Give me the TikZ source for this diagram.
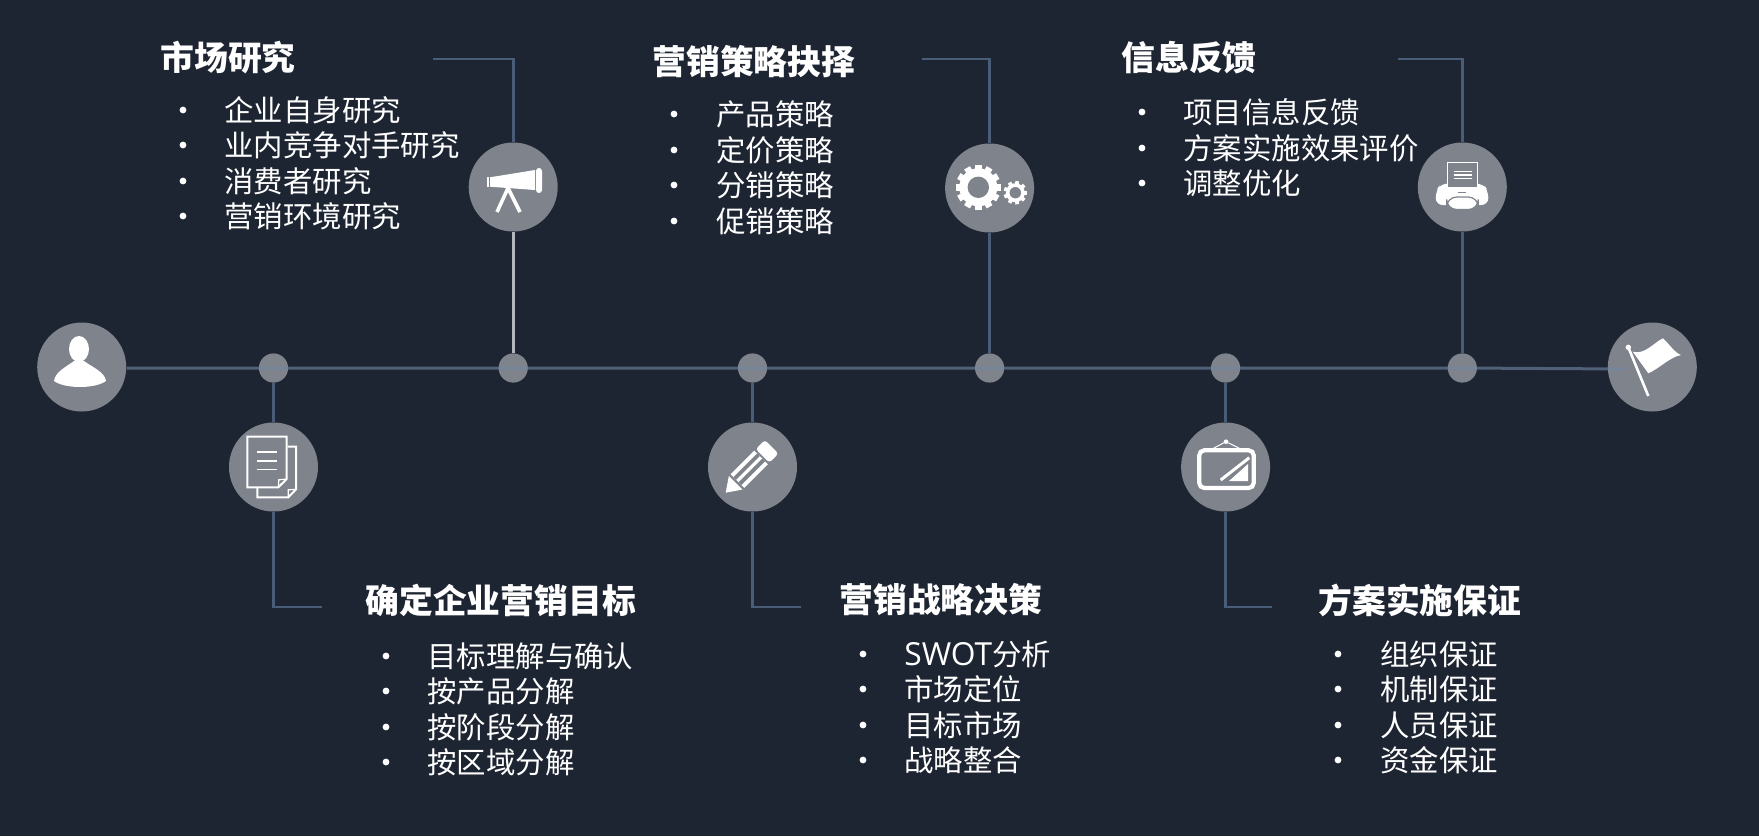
\documentclass[tikz,border=0pt]{standalone}
\usepackage{fontspec}
\setmainfont{Noto Sans CJK SC}
\newfontfamily\latinfont[Scale=1.08]{Open Sans}
\usetikzlibrary{backgrounds}
\definecolor{bgc}{HTML}{1E2532}
\definecolor{disc}{HTML}{7E838C}
\definecolor{wire}{HTML}{4A5D78}
\definecolor{wirelight}{HTML}{B4B8BD}
\definecolor{wiremain}{HTML}{7088A5}
\tikzset{
  x=0.5pt,y=-0.5pt,
  hub/.style={circle,fill=disc,inner sep=0pt,minimum size=44.5pt},
  dotnode/.style={circle,fill=disc,inner sep=0pt,minimum size=14.6pt},
  link/.style={draw=wire,line width=1.4pt},
  mainlink/.style={draw=wiremain,draw opacity=.6,line width=1.5pt},
  head/.style={anchor=west,inner sep=0pt,text=white,font=\fontsize{16.9pt}{20pt}\selectfont\bfseries},
  item/.style={anchor=west,inner sep=0pt,text=white,font=\fontsize{14.7pt}{18pt}\selectfont},
  bul/.style={circle,fill=white,inner sep=0pt,minimum size=3.4pt},
  ic/.style={fill=white,draw=none},
  icl/.style={draw=white,line width=1pt},
}
\newcommand{\rowitem}[5]{% name, bullet x, text x, y, text
  \node[bul] (b#1) at (#2,#4) {};
  \node[item] (t#1) at (#3,#4) {#5};
}
\begin{document}
\begin{tikzpicture}
\useasboundingbox (0,0) rectangle (1759,836);
% nodes
\node[hub] (person) at (81.7,367) {};
\node[hub] (flag) at (1652.3,367) {};
\node[hub] (docs) at (273.5,467) {};
\node[hub] (scope) at (513.2,187) {};
\node[hub] (pencil) at (752.5,467) {};
\node[hub] (gears) at (989.6,188) {};
\node[hub] (frame) at (1225.6,467) {};
\node[hub] (printer) at (1462.3,187) {};
\node[dotnode] (d1) at (273.5,368) {};
\node[dotnode] (d2) at (513.2,368) {};
\node[dotnode] (d3) at (752.5,368) {};
\node[dotnode] (d4) at (989.6,368) {};
\node[dotnode] (d5) at (1225.6,368) {};
\node[dotnode] (d6) at (1462.3,368) {};
\coordinate (linestart) at (person.east |- d1.center);
\coordinate (lineend) at (1625,369);
\coordinate (c1) at (433,59);
\coordinate (c2) at (922,59);
\coordinate (c3) at (1398,59);
\coordinate (c4) at (322,607);
\coordinate (c5) at (801,607);
\coordinate (c6) at (1272,607);
\begin{scope}[on background layer]
  \fill[bgc] (0,0) rectangle (1759,836);
  \draw[link] (d1) -- (docs);
  \draw[link] (d3) -- (pencil);
  \draw[link] (d5) -- (frame);
  \draw[link,draw=wirelight] (scope) -- (d2);
  \draw[link] (gears) -- (d4);
  \draw[link] (printer) -- (d6);
  \draw[link] (c1) -| (scope);
  \draw[link] (c2) -| (gears);
  \draw[link] (c3) -| (printer);
  \draw[link] (docs) |- (c4);
  \draw[link] (pencil) |- (c5);
  \draw[link] (frame) |- (c6);
\end{scope}
\draw[mainlink] (linestart) -- (d1.center) -- (d2.center) -- (d3.center) -- (d4.center) -- (d5.center) -- (d6.center) -- (lineend);
% person
\fill[ic] (79,349) ellipse[x radius=10,y radius=13];
\fill[ic] (54,381) .. controls (55,372) and (66,367) .. (74,361) -- (84,361) .. controls (92,367) and (105,372) .. (106,381) .. controls (95,389) and (65,389) .. (54,381) -- cycle;
% documents
\draw[icl] (287.5,446.7) -- (296,446.7) -- (296,489.3) -- (288.3,497.3) -- (257.3,497.3) -- (257.3,488);
\draw[white,line width=0.6pt] (296,489.3) -- (288.3,489.8) -- (288.3,497.3);
\draw[icl] (286.7,479) -- (286.7,436.7) -- (247.3,436.7) -- (247.3,487.3) -- (278.3,487.3) -- cycle;
\draw[white,line width=0.6pt] (286.7,479) -- (278.8,479.8) -- (278.3,487.3);
\draw[white,line width=0.9pt] (257.3,452) -- (276.7,452) (257.3,461) -- (276.7,461);
\draw[white,line width=0.7pt] (257.3,469.3) -- (276.7,469.3);
% telescope
\fill[ic] (490,177.3) -- (535,170) -- (535,190) -- (490,186.7) -- cycle;
\fill[ic,rounded corners=1.5pt] (536,168) rectangle (542,193);
\fill[ic] (486.7,177.3) rectangle (488.6,187.3);
\draw[white,line width=1.8pt] (508,188) -- (497,212) (508,188) -- (520,212);
% gears
\begin{scope}[shift={(978.3,187.3)}]
  \fill[white] (0,0) circle[radius=19];
  \foreach \a in {0,30,...,330} {\fill[white,rotate=\a] (17,-3.3) rectangle (22.5,3.3);}
  \fill[disc] (0,0) circle[radius=10.7];
\end{scope}
\begin{scope}[shift={(1015.3,192.7)}]
  \fill[white] (0,0) circle[radius=9.5];
  \foreach \a in {0,40,...,320} {\fill[white,rotate=\a] (8,-1.9) rectangle (11.7,1.9);}
  \fill[disc] (0,0) circle[radius=5.7];
\end{scope}
% printer
\fill[ic,rounded corners=3.5pt] (1435.7,205) -- (1435.7,191) -- (1441,183.5) -- (1483,183.5) -- (1488.3,191) -- (1488.3,205) -- cycle;
\draw[white,line width=0.7pt,fill=disc] (1447.7,162.3) rectangle (1477.3,187.7);
\draw[white,line width=0.8pt] (1453.5,171.5) -- (1471.5,171.5) (1453.5,175) -- (1471.5,175) (1453.5,178.5) -- (1471.5,178.5);
\draw[disc,line width=0.6pt] (1457.5,192.5) -- (1465.5,192.5);
\fill[ic,draw=disc,line width=0.6pt,rounded corners=5pt] (1446.7,197) rectangle (1478.3,209.5);
% flag
\draw[white,line width=1.3pt] (1628.3,347.3) -- (1648.3,396);
\fill[ic] (1628.3,347.3) circle[radius=2.7];
\fill[ic] (1632.7,351.7) .. controls (1645,355) and (1653,343) .. (1663,338.3) .. controls (1670,345) and (1675,353) .. (1681,355) .. controls (1670,357) and (1660,368) .. (1648.3,373.3) -- cycle;
% pencil
\begin{scope}[shift={(725.7,492.7)},rotate=45]
  \fill[ic] (0,0) -- (14,-9.6) -- (14,9.6) -- cycle;
  \fill[ic] (16.5,-9.6) rectangle (50,9.6);
  \fill[disc] (16.5,-5.6) rectangle (50,-1.8) (16.5,1.8) rectangle (50,5.6);
  \fill[ic,rounded corners=1.5pt] (52,-9.6) rectangle (65,9.6);
\end{scope}
% frame
\draw[white,line width=2.1pt,rounded corners=2.5pt] (1199.3,450.3) rectangle (1253.7,488);
\draw[white,line width=0.5pt] (1213.3,448.3) -- (1226,441.7) -- (1239.3,448.3);
\fill[ic] (1226,441.7) circle[radius=2.3];
\draw[white,line width=1.5pt] (1220.7,480) -- (1249.3,457.7);
\fill[ic] (1229,481) -- (1248,481) -- (1248,464) -- cycle;
% texts
\node[head] (h1) at (160,58) {市场研究};
\node[head] (h2) at (652,62) {营销策略抉择};
\node[head] (h3) at (1121,58) {信息反馈};
\node[head] (h4) at (365,600) {确定企业营销目标};
\node[head] (h5) at (839,600) {营销战略决策};
\node[head] (h6) at (1318,600) {方案实施保证};
\rowitem{a1}{183}{224}{110}{企业自身研究}
\rowitem{a2}{183}{224}{145}{业内竞争对手研究}
\rowitem{a3}{183}{224}{181}{消费者研究}
\rowitem{a4}{183}{224}{216}{营销环境研究}
\rowitem{b1}{674}{716}{114}{产品策略}
\rowitem{b2}{674}{716}{150}{定价策略}
\rowitem{b3}{674}{716}{185}{分销策略}
\rowitem{b4}{674}{716}{221}{促销策略}
\rowitem{c1}{1142}{1183}{112}{项目信息反馈}
\rowitem{c2}{1142}{1183}{148}{方案实施效果评价}
\rowitem{c3}{1142}{1183}{183}{调整优化}
\rowitem{e1}{386}{427}{656}{目标理解与确认}
\rowitem{e2}{386}{427}{691}{按产品分解}
\rowitem{e3}{386}{427}{727}{按阶段分解}
\rowitem{e4}{386}{427}{762}{按区域分解}
\rowitem{f1}{863}{904}{654}{{\latinfont SWOT}分析}
\rowitem{f2}{863}{904}{689}{市场定位}
\rowitem{f3}{863}{904}{725}{目标市场}
\rowitem{f4}{863}{904}{760}{战略整合}
\rowitem{g1}{1338}{1380}{654}{组织保证}
\rowitem{g2}{1338}{1380}{689}{机制保证}
\rowitem{g3}{1338}{1380}{725}{人员保证}
\rowitem{g4}{1338}{1380}{760}{资金保证}
\end{tikzpicture}
\end{document}
